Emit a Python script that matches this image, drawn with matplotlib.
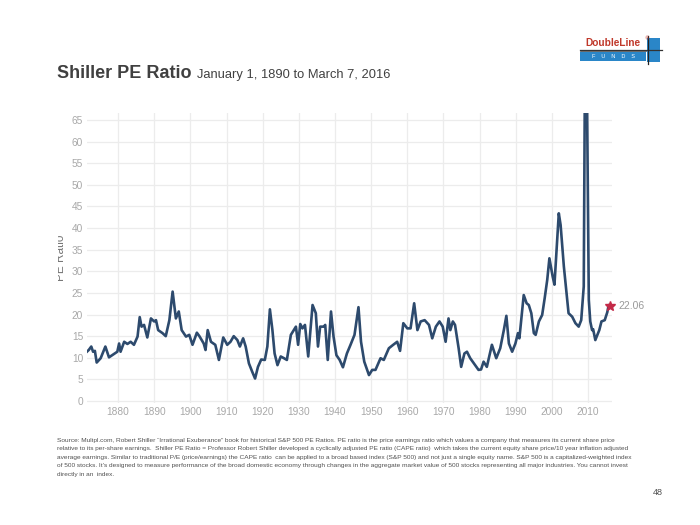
import matplotlib
matplotlib.use("Agg")
import matplotlib.pyplot as plt
from matplotlib.patches import Rectangle
from matplotlib.lines import Line2D
from matplotlib.transforms import Bbox

# ---------------- data ----------------
years = [1871.0, 1871.9, 1872.6, 1873.1, 1873.6, 1874.1, 1875.2, 1876.5, 1877.5, 1878.9,
         1879.8, 1880.3, 1880.7, 1881.7, 1882.6, 1883.5, 1884.4, 1885.4, 1886.0, 1886.5,
         1887.2, 1888.1, 1889.1, 1890.0, 1890.5, 1891.1, 1892.3, 1893.2, 1894.2, 1895.1,
         1896.0, 1896.8, 1897.6, 1898.8, 1899.7, 1900.6, 1901.8, 1902.5, 1903.7, 1904.2,
         1904.8, 1905.7, 1906.9, 1907.9, 1909.1, 1910.2, 1911.1, 1912.0, 1913.0, 1913.7,
         1914.6, 1915.3, 1916.2, 1917.1, 1917.9, 1918.7, 1919.6, 1920.6, 1921.3, 1922.0,
         1922.7, 1923.3, 1924.1, 1925.0, 1925.9, 1926.7, 1927.8, 1929.2, 1929.8, 1930.4,
         1931.0, 1931.7, 1932.6, 1933.8, 1934.7, 1935.3, 1935.9, 1936.9, 1937.3, 1938.0,
         1938.9, 1939.6, 1940.4, 1941.3, 1942.2, 1943.3, 1944.3, 1945.4, 1946.5, 1947.2,
         1948.1, 1949.4, 1950.3, 1951.2, 1952.6, 1953.5, 1954.9, 1956.1, 1957.2, 1958.0,
         1958.9, 1960.0, 1960.9, 1961.9, 1962.8, 1963.7, 1964.8, 1966.0, 1966.9, 1967.9,
         1968.9, 1969.8, 1970.6, 1971.4, 1971.9, 1972.6, 1973.2, 1974.2, 1974.9, 1975.8,
         1976.5, 1977.4, 1978.5, 1979.7, 1980.4, 1981.1, 1982.0, 1983.4, 1984.6, 1985.7,
         1986.7, 1987.4, 1988.1, 1989.0, 1989.9, 1990.6, 1991.0, 1992.2, 1993.0, 1993.6,
         1994.3, 1995.0, 1995.5, 1996.4, 1997.3, 1998.0, 1998.7, 1999.3, 2000.2, 2000.7,
         2001.9, 2002.4, 2003.3, 2004.6, 2005.6, 2006.5, 2007.4, 2008.1, 2008.8, 2009.2,
         2009.4, 2009.7, 2010.2, 2010.6, 2011.1, 2011.4, 2012.0, 2013.1, 2013.7, 2014.6,
         2015.3, 2015.7, 2016.18]
pe = [11.1, 11.8, 12.6, 11.4, 11.6, 8.9, 9.9, 12.6, 10.1, 10.9,
      11.4, 13.3, 11.4, 13.7, 13.2, 13.7, 13.0, 14.9, 19.4, 17.2,
      17.6, 14.7, 19.1, 18.4, 18.7, 16.4, 15.7, 15.0, 18.7, 25.3,
      19.1, 20.7, 16.4, 14.9, 15.3, 13.0, 15.8, 15.0, 13.3, 11.8,
      16.4, 13.7, 13.0, 9.5, 14.7, 13.0, 13.7, 15.0, 14.1, 12.6,
      14.5, 12.6, 8.7, 6.8, 5.2, 7.9, 9.6, 9.5, 12.6, 21.2,
      16.4, 11.0, 8.3, 10.3, 9.9, 9.5, 15.3, 17.2, 13.0, 17.8,
      16.8, 17.6, 10.3, 22.2, 20.3, 12.6, 17.2, 17.2, 17.6, 9.5,
      20.7, 14.9, 10.6, 9.5, 7.8, 11.0, 13.0, 15.3, 21.7, 13.7,
      9.1, 6.0, 7.2, 7.2, 9.9, 9.5, 12.2, 13.0, 13.7, 11.6,
      18.0, 16.8, 16.8, 22.6, 16.4, 18.4, 18.7, 17.6, 14.5, 17.2,
      18.4, 17.2, 13.7, 19.1, 16.4, 18.4, 17.6, 12.2, 7.9, 11.0,
      11.4, 9.9, 8.6, 7.2, 7.3, 9.1, 7.9, 13.0, 9.9, 12.2,
      16.4, 19.7, 13.3, 11.4, 13.3, 15.7, 14.5, 24.5, 22.6, 22.2,
      20.3, 15.7, 15.3, 18.4, 19.9, 23.8, 28.0, 33.0, 28.8, 26.9,
      43.4, 40.7, 31.1, 20.3, 19.5, 18.0, 17.2, 18.7, 26.5, 86.0,
      123.7, 70.0, 23.4, 18.4, 16.4, 16.6, 14.1, 16.4, 18.4, 18.7,
      20.5, 22.2, 22.06]
y_ticks = list(range(0, 70, 5))
x_ticks = list(range(1880, 2020, 10))
last_year = 2016.18
last_value = 22.06
last_label = "22.06"

title_main = "Shiller PE Ratio"
title_sub = "January 1, 1890 to March 7, 2016"
y_label = "PE Ratio"
footnote = [
    "Source: Multpl.com, Robert Shiller \u201cIrrational Exuberance\u201d book for historical S&P 500 PE Ratios. PE ratio is the price earnings ratio which values a company that measures its current share price",
    "relative to its per-share earnings.  Shiller PE Ratio = Professor Robert Shiller developed a cyclically adjusted PE ratio (CAPE ratio)  which takes the current equity share price/10 year inflation adjusted",
    "average earnings. Similar to traditional P/E (price/earnings) the CAPE ratio  can be applied to a broad based index (S&P 500) and not just a single equity name. S&P 500 is a capitalized-weighted index",
    "of 500 stocks. It\u2019s designed to measure performance of the broad domestic economy through changes in the aggregate market value of 500 stocks representing all major industries. You cannot invest",
    "directly in an  index.",
]
page_no = "48"

# ---------------- figure ----------------
W, H = 700, 525
fig = plt.figure(figsize=(7, 5.25), dpi=100)
fig.patch.set_facecolor("white")

def fx(x):
    return x / W

def fy(y):
    return 1 - y / H

narrow = ["Liberation Sans", "DejaVu Sans"]

ax = fig.add_axes([0.1247, 0.232, 0.749, 0.552])
ax.plot(years, pe, color="#2d4a6d", lw=1.9, solid_joinstyle="round")
ax.plot([last_year], [last_value], marker="*", color="#c42a48", ms=7, ls="none",
        clip_on=False, zorder=5)
ax.text(last_year + 2.2, last_value, last_label, color="#9a9a9a", fontsize=7.5,
        family=narrow, va="center", ha="left", clip_on=False)
ax.set_xlim(1871.5, 2016.5)
ax.set_ylim(-0.5, 66.5)
ax.set_xticks(x_ticks)
ax.set_yticks(y_ticks)
ax.grid(True, color="#ececec", lw=0.9)
ax.set_axisbelow(True)
for s in ax.spines.values():
    s.set_visible(False)
ax.tick_params(length=0, colors="#a8a8a8", labelsize=7.3, pad=3)
for lab in ax.get_xticklabels() + ax.get_yticklabels():
    lab.set_family(narrow)

# y label, partly hidden as in the reference
yl = fig.text(fx(60.5), fy(258), y_label, rotation=90, ha="center", va="center",
              fontsize=8.5, color="#777777", family=narrow)
yl.set_clip_box(Bbox([[58.0, 0], [80, H]]))
yl.set_clip_on(True)

# titles
fig.text(fx(57), fy(78), title_main, fontsize=13, fontweight="bold",
         color="#404040", family=narrow, ha="left", va="baseline")
fig.text(fx(197), fy(78), title_sub, fontsize=9.3, color="#404040",
         family=narrow, ha="left", va="baseline")

# logo
fig.text(fx(613), fy(46.5), "DoubleLine", fontsize=7.3, fontweight="bold",
         color="#c0392b", family=narrow, ha="center", va="baseline")
fig.text(fx(644.5), fy(40), "\u00ae", fontsize=3.5, color="#c0392b", ha="left")
fig.add_artist(Rectangle((fx(580), fy(61)), fx(66), 9 / H, transform=fig.transFigure,
                         facecolor="#2a86c8", edgecolor="none"))
fig.add_artist(Rectangle((fx(647), fy(62)), fx(13), 24 / H, transform=fig.transFigure,
                         facecolor="#2a86c8", edgecolor="none"))
fig.text(fx(613), fy(58.5), "F    U    N    D    S", fontsize=4, color="white",
         family=narrow, ha="center", va="baseline")
fig.add_artist(Line2D([fx(580), fx(662)], [fy(49.5), fy(49.5)], transform=fig.transFigure,
                      color="#333333", lw=0.9))
fig.add_artist(Line2D([fx(580), fx(646)], [fy(51), fy(51)], transform=fig.transFigure,
                      color="#333333", lw=0.5))
fig.add_artist(Line2D([fx(647.5), fx(647.5)], [fy(36), fy(64)], transform=fig.transFigure,
                      color="#222222", lw=0.9))

# footnote
for i, line in enumerate(footnote):
    fig.text(fx(57), fy(442 + i * 8.4), line, fontsize=4.65, color="#505050",
             family=narrow, ha="left", va="baseline")

fig.text(fx(663), fy(495), page_no, fontsize=6.5, color="#505050", family=narrow,
         ha="right", va="baseline")

fig.savefig("out.png", dpi=100, facecolor="white")
